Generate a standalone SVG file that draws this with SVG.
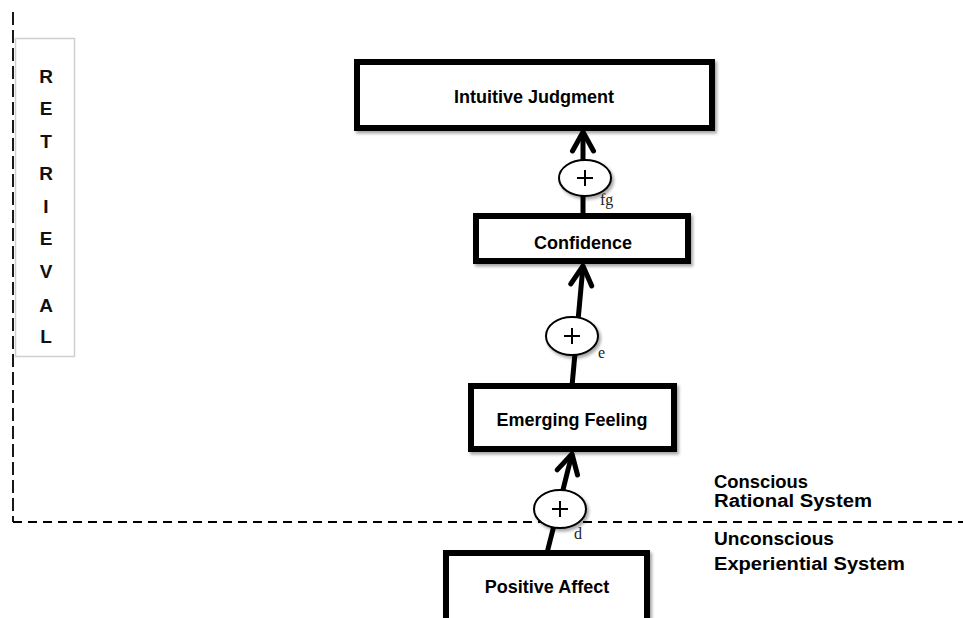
<svg xmlns="http://www.w3.org/2000/svg" width="963" height="618" viewBox="0 0 963 618">
  <defs>
    <style>
      .box { fill: #ffffff; stroke: #000000; stroke-width: 6; filter: url(#shadow); }
      .label { font-family: "Liberation Sans", Arial, sans-serif; font-weight: bold; font-size: 18px; fill: #000000; }
      .node-text { text-anchor: middle; }
      .link { stroke: #000000; stroke-width: 5; fill: none; marker-end: url(#chevron); }
      .junction { fill: #ffffff; stroke: #000000; stroke-width: 2; filter: url(#shadow); }
      .plus { stroke: #000000; stroke-width: 2; fill: none; }
      .tag { font-family: "Liberation Serif", "Times New Roman", serif; font-size: 16px; fill: #222222; }
      .divider { stroke: #000000; stroke-width: 1.8; fill: none; }
      .side-letter { font-family: "Liberation Sans", Arial, sans-serif; font-weight: bold; font-size: 19px; text-anchor: middle; fill: #111111; }
    </style>
    <filter id="shadow" x="-10%" y="-20%" width="130%" height="150%">
      <feDropShadow dx="2" dy="2.5" stdDeviation="1.5" flood-color="#000000" flood-opacity="0.35"/>
    </filter>
    <marker id="chevron" markerUnits="userSpaceOnUse" viewBox="-26 -16 32 32" refX="0" refY="0" markerWidth="32" markerHeight="32" orient="auto">
      <path d="M -19 -10.5 L 0 0 L -19 10.5" fill="none" stroke="#000000" stroke-width="5" stroke-linecap="round" stroke-linejoin="round"/>
    </marker>
  </defs>

  <rect width="963" height="618" fill="#ffffff"/>

  <!-- system boundaries -->
  <g id="boundaries">
    <line class="divider" x1="13" y1="12" x2="13" y2="522" stroke-dasharray="13 5"/>
    <line class="divider" x1="13" y1="522" x2="963" y2="522" stroke-dasharray="9 6"/>
  </g>

  <!-- vertical side label -->
  <g id="retrieval">
    <rect x="15.5" y="38.5" width="59" height="318" fill="#ffffff" stroke="#cfcfcf" stroke-width="1.5"/>
    <text class="side-letter" x="46" y="83">R</text>
    <text class="side-letter" x="46" y="115">E</text>
    <text class="side-letter" x="46" y="148">T</text>
    <text class="side-letter" x="46" y="180">R</text>
    <text class="side-letter" x="46" y="213">I</text>
    <text class="side-letter" x="46" y="245">E</text>
    <text class="side-letter" x="46" y="278">V</text>
    <text class="side-letter" x="46" y="312">A</text>
    <text class="side-letter" x="46" y="343">L</text>
  </g>

  <!-- connectors -->
  <g id="connectors">
    <line class="link" x1="547" y1="553" x2="572" y2="454"/>
    <line class="link" x1="572" y1="386" x2="583" y2="266"/>
    <line class="link" x1="583" y1="216" x2="583" y2="132"/>

    <g id="junction-d">
      <ellipse class="junction" cx="560" cy="509" rx="26" ry="19"/>
      <path class="plus" d="M 552 509 H 568 M 560 501 V 517"/>
      <text class="tag" x="574" y="539">d</text>
    </g>
    <g id="junction-e">
      <ellipse class="junction" cx="572" cy="336" rx="26" ry="19"/>
      <path class="plus" d="M 564 336 H 580 M 572 328 V 344"/>
      <text class="tag" x="598" y="358">e</text>
    </g>
    <g id="junction-fg">
      <ellipse class="junction" cx="585" cy="178" rx="26" ry="18"/>
      <path class="plus" d="M 577 178 H 593 M 585 170 V 186"/>
      <text class="tag" x="600" y="205">fg</text>
    </g>
  </g>

  <!-- nodes -->
  <g id="intuitive-judgment">
    <rect class="box" x="357" y="62" width="355" height="66"/>
    <text class="label node-text" x="534" y="103">Intuitive Judgment</text>
  </g>
  <g id="confidence">
    <rect class="box" x="476" y="216" width="212" height="45"/>
    <text class="label node-text" x="583" y="249">Confidence</text>
  </g>
  <g id="emerging-feeling">
    <rect class="box" x="471" y="386" width="203" height="63"/>
    <text class="label node-text" x="572" y="426">Emerging Feeling</text>
  </g>
  <g id="positive-affect">
    <rect class="box" x="446" y="553" width="201" height="75"/>
    <text class="label node-text" x="547" y="593">Positive Affect</text>
  </g>

  <!-- system labels -->
  <g id="system-labels">
    <text class="label" x="714" y="488" textLength="94" lengthAdjust="spacingAndGlyphs">Conscious</text>
    <text class="label" x="714" y="507" textLength="158" lengthAdjust="spacingAndGlyphs">Rational System</text>
    <text class="label" x="714" y="545" textLength="120" lengthAdjust="spacingAndGlyphs">Unconscious</text>
    <text class="label" x="714" y="570" textLength="191" lengthAdjust="spacingAndGlyphs">Experiential System</text>
  </g>
</svg>
